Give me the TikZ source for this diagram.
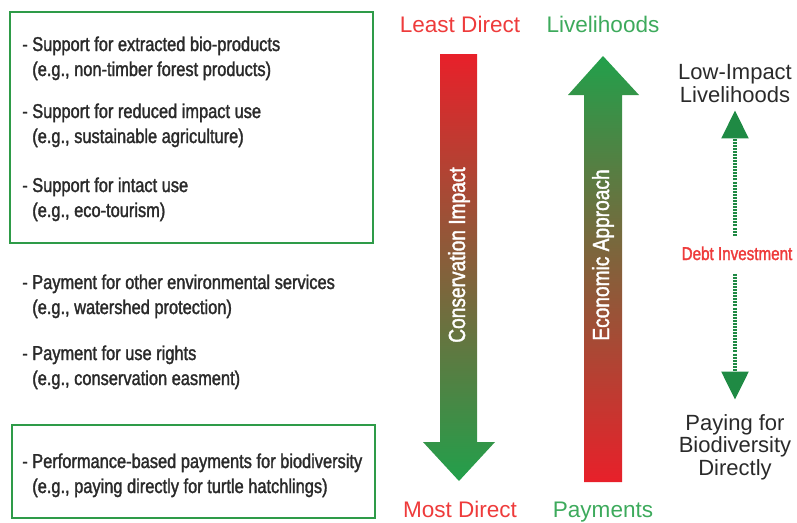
\documentclass[tikz,border=0pt]{standalone}
\usepackage{fontspec}
\setmainfont{Liberation Sans}
\newfontfamily\condfont[FakeStretch=0.82,FakeBold=1.6]{Liberation Sans}
\usetikzlibrary{arrows.meta}

\definecolor{boxgreen}{HTML}{2E9B48}
\definecolor{arrowred}{HTML}{E8202A}
\definecolor{arrowgreen}{HTML}{22A04B}
\definecolor{labelred}{HTML}{EE3B3B}
\definecolor{labelgreen}{HTML}{3DAA5C}
\definecolor{darkgreen}{HTML}{1F8A44}
\definecolor{inkgray}{HTML}{2A2A2A}

\begin{document}
\begin{tikzpicture}[x=0.75pt,y=-0.75pt,
  framebox/.style={draw=boxgreen, line width=2pt},
  item/.style={anchor=base west, inner sep=0pt, align=left, text=inkgray,
    font=\condfont\fontsize{15pt}{18.75pt}\selectfont},
  endlabel/.style={anchor=base, inner sep=0pt, font=\fontsize{16.9pt}{20pt}\selectfont},
  sidelabel/.style={anchor=base, inner sep=0pt, align=center, text=inkgray,
    font=\fontsize{16.5pt}{16.7pt}\selectfont},
  axislabel/.style={rotate=90, inner sep=0pt, text=white,
    font=\condfont\fontsize{17.5pt}{18pt}\selectfont},
  dotarrow/.style={draw=darkgreen, line width=2.6pt, dash pattern=on 1.5pt off 0.8pt,
    -{Triangle[width=20pt,length=21pt]}}
]
\useasboundingbox (0,0) rectangle (797,522);

% framed groups on the left
\draw[framebox] (10,12) rectangle (373,243);
\draw[framebox] (12,425) rectangle (375,518);

% approach list (each node sits on the baseline of its second line)
\node[item] (i1) at (22,76) {- Support for extracted bio-products\\\phantom{- }(e.g., non-timber forest products)};
\node[item] (i2) at (22,143) {- Support for reduced impact use\\\phantom{- }(e.g., sustainable agriculture)};
\node[item] (i3) at (22,217) {- Support for intact use\\\phantom{- }(e.g., eco-tourism)};
\node[item] (i4) at (22,314) {- Payment for other environmental services\\\phantom{- }(e.g., watershed protection)};
\node[item] (i5) at (22,385) {- Payment for use rights\\\phantom{- }(e.g., conservation easment)};
\node[item] (i6) at (22,493) {- Performance-based payments for biodiversity\\\phantom{- }(e.g., paying directly for turtle hatchlings)};

% conservation impact arrow (pointing down)
\shade[top color=arrowred, bottom color=arrowgreen]
  (440,54) -- (477,54) -- (477,442) -- (495,442) -- (459,481) -- (423,442) -- (440,442) -- cycle;
% economic approach arrow (pointing up)
\shade[top color=arrowgreen, bottom color=arrowred]
  (584,482) -- (622,482) -- (622,95) -- (639,95) -- (603,56) -- (568,95) -- (584,95) -- cycle;

\node[axislabel] (ci) at (459,255) {Conservation Impact};
\node[axislabel] (ea) at (603,255) {Economic Approach};

% ends of the two scales
\node[endlabel, text=labelred] (least) at (460,32) {Least Direct};
\node[endlabel, text=labelgreen] (liveli) at (603,32) {Livelihoods};
\node[endlabel, text=labelred] (most) at (460,517) {Most Direct};
\node[endlabel, text=labelgreen] (pay) at (603,517) {Payments};

% outcome column (base = baseline of the last line)
\node[sidelabel] (low) at (735,102) {Low-Impact\\Livelihoods};
\node[sidelabel] (direct) at (735,475) {Paying for\\Biodiversity\\Directly};
\node[anchor=base, inner sep=0pt, text=labelred,
  font=\condfont\fontsize{13.9pt}{16pt}\selectfont] (debt) at (737,260) {Debt Investment};

\draw[dotarrow, shorten <=8pt, shorten >=6pt] (debt.north -| low.south) -- (low.south);
\draw[dotarrow, shorten <=10pt, shorten >=11pt] (debt.south -| direct.north) -- (direct.north);
\end{tikzpicture}
\end{document}
